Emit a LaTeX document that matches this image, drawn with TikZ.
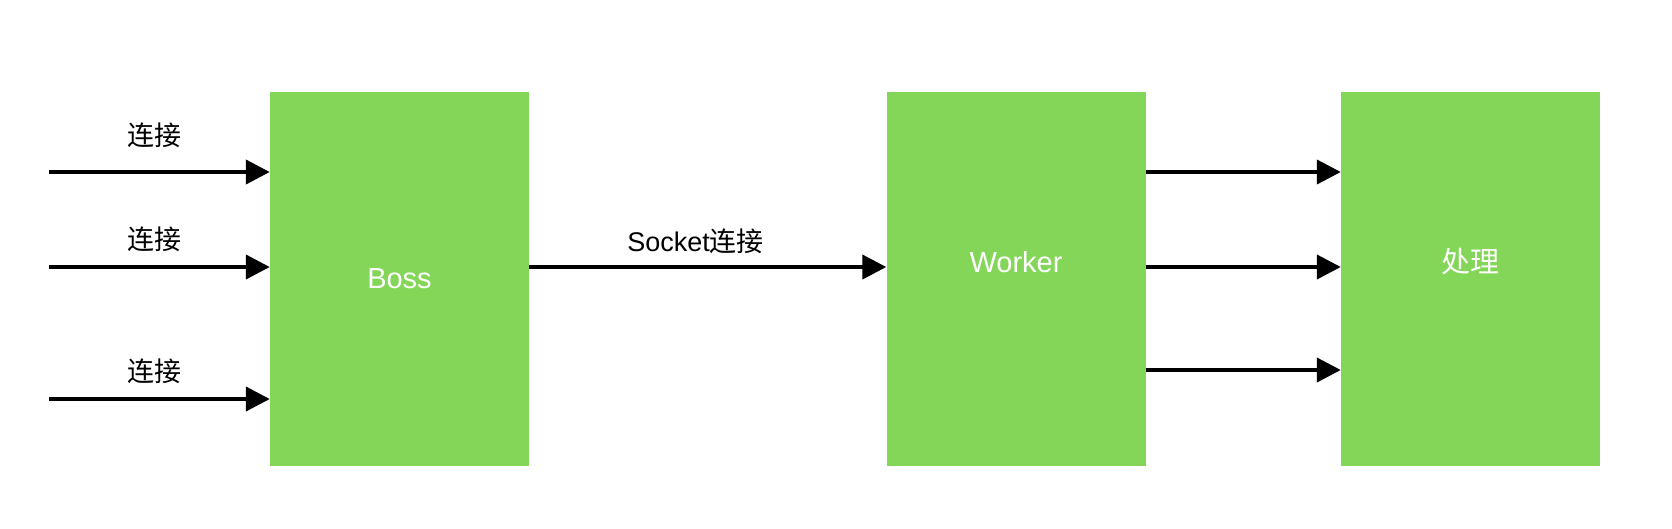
\documentclass[tikz,border=0pt]{standalone}
\usepackage{fontspec}
\setmainfont{Liberation Sans}
\newfontfamily\cjk{Noto Sans CJK SC}
\usetikzlibrary{arrows.meta}
\definecolor{boxgreen}{HTML}{83D658}
\tikzset{
  box/.style={fill=boxgreen, draw=none, minimum width=259pt, minimum height=374pt, inner sep=0pt, text=white, font=\fontsize{29}{34}\selectfont},
  arr/.style={line width=4pt, -{Triangle[length=24pt,width=24pt]}},
  lbl/.style={font=\fontsize{27}{32}\selectfont, inner sep=0pt, text=black},
}
\begin{document}
\begin{tikzpicture}[x=1pt,y=-1pt]
\useasboundingbox (0,0) rectangle (1672,528);
\node[box] (boss) at (399.5,279) {Boss};
\node[box, label={[text=white, font=\fontsize{29}{34}\selectfont, yshift=17pt]center:Worker}] (worker) at (1016,279) {};
\node[box, label={[text=white, font=\fontsize{29}{34}\selectfont\cjk, yshift=17pt]center:处理}] (proc) at (1470.5,279) {};
\coordinate (s1) at (49,172);
\coordinate (s2) at (49,267);
\coordinate (s3) at (49,399);
\draw[arr] (s1) -- node[lbl, pos=0.48, yshift=37pt]{\cjk 连接} (boss.west |- s1);
\draw[arr] (s2) -- node[lbl, pos=0.48, yshift=28pt]{\cjk 连接} (boss.west |- s2);
\draw[arr] (s3) -- node[lbl, pos=0.48, yshift=28pt]{\cjk 连接} (boss.west |- s3);
\draw[arr] (boss.east |- s2) -- node[lbl, pos=0.466, yshift=26pt]{Socket{\cjk 连接}} (worker.west |- s2);
\draw[arr] (worker.east |- s1) -- (proc.west |- s1);
\draw[arr] (worker.east |- s2) -- (proc.west |- s2);
\draw[arr] (worker.east |- 0,370) -- (proc.west |- 0,370);
\end{tikzpicture}
\end{document}
